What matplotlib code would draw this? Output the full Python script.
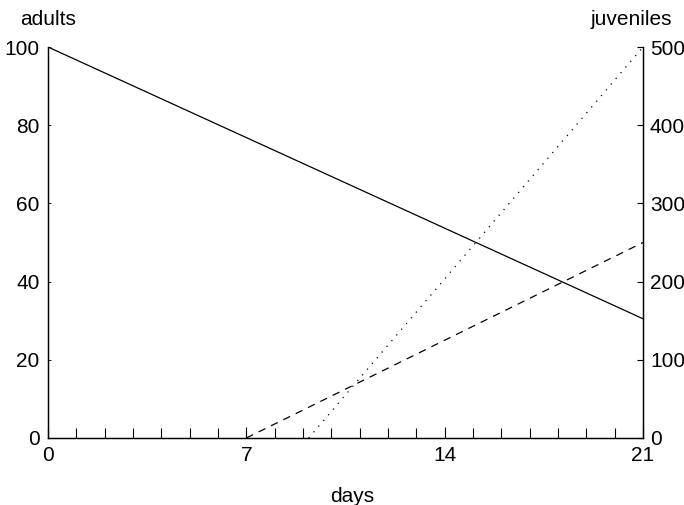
import matplotlib.pyplot as plt
from matplotlib.ticker import MultipleLocator

plt.rcParams['font.family'] = ['Liberation Sans', 'DejaVu Sans']

# adults (left axis) and juveniles (right axis) against days
days_adults = [0, 21]
adults = [100, 30.5]

# juveniles are zero before these start days
days_juv_a = [7, 21]
juveniles_a = [0, 250]

days_juv_b = [9.2, 21]
juveniles_b = [0, 500]

fig = plt.figure(figsize=(6.84, 5.05), dpi=100)
ax = fig.add_axes([0.0702, 0.1327, 0.8698, 0.7742])
ax2 = ax.twinx()

ax.plot(days_adults, adults, color='black', lw=0.9)
ax2.plot(days_juv_a, juveniles_a, color='black', lw=0.9, ls=(0, (6, 5)))
ax2.plot(days_juv_b, juveniles_b, color='black', lw=0.9, ls=(0, (1, 5)))

ax.set_xlim(0, 21)
ax.set_ylim(0, 100)
ax2.set_ylim(0, 500)

ax.set_xticks([0, 7, 14, 21])
ax.xaxis.set_minor_locator(MultipleLocator(1))
ax.set_yticks(range(0, 101, 20))
ax2.set_yticks(range(0, 501, 100))

for a in (ax, ax2):
    a.spines['top'].set_visible(False)
    a.spines['left'].set_linewidth(0.9)
    a.spines['right'].set_linewidth(0.9)
    a.spines['bottom'].set_linewidth(0.9)
    a.tick_params(labelsize=15)

ax.tick_params(axis='x', which='major', direction='in', length=8, width=0.8, pad=6)
ax.tick_params(axis='x', which='minor', direction='in', length=7, width=0.8)
ax.tick_params(axis='y', direction='in', length=2, width=0.6, pad=6)
ax2.tick_params(axis='y', direction='in', length=4, width=0.8, pad=5)

fig.text(0.029, 0.962, 'adults', fontsize=15, ha='left', va='center')
fig.text(0.983, 0.962, 'juveniles', fontsize=15, ha='right', va='center')
fig.text(0.515, 0.016, 'days', fontsize=15, ha='center', va='center')

fig.savefig('out.png', dpi=100)
